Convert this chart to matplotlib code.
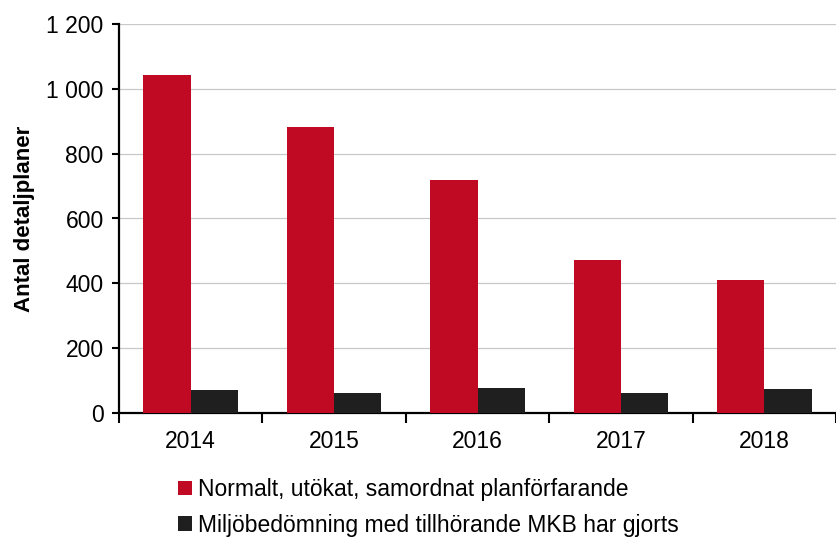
import matplotlib.pyplot as plt
import numpy as np

plt.rcParams['font.family'] = ['Liberation Sans', 'DejaVu Sans']

years = ['2014', '2015', '2016', '2017', '2018']
normalt = [1043, 882, 718, 473, 411]
miljo = [71, 63, 78, 63, 73]
labels = ['Normalt, utökat, samordnat planförfarande',
          'Miljöbedömning med tillhörande MKB har gjorts']
colors = ['#c00a23', '#1f1f1f']

W, H = 836, 539
fig = plt.figure(figsize=(W / 100, H / 100), dpi=100)
left, right, bottom, top = 119, 836, 413, 24
ax = fig.add_axes([left / W, 1 - bottom / H, (right - left) / W, (bottom - top) / H])

x = np.arange(len(years))
w = 0.33
b1 = ax.bar(x - w / 2, normalt, w, color=colors[0], zorder=3, label=labels[0])
b2 = ax.bar(x + w / 2, miljo, w, color=colors[1], zorder=3, label=labels[1])

ax.set_xlim(-0.5, -0.5 + (right - left) / 144)
ax.set_ylim(0, 1200)
ax.set_yticks(range(0, 1201, 200))
ax.set_yticklabels(['0', '200', '400', '600', '800', '1 000', '1 200'])
ax.yaxis.grid(True, color='#c8c8c8', linewidth=0.9, zorder=0)
ax.set_axisbelow(True)

# ticks between the groups, labels centred under them
ax.set_xticks(np.arange(-0.5, len(years), 1))
ax.set_xticklabels([])
ax.set_xticks(x, minor=True)
ax.set_xticklabels(years, minor=True)
ax.tick_params(axis='x', which='major', length=7, width=1.5, direction='out')
ax.tick_params(axis='x', which='minor', length=0, pad=12, labelsize=16.5)
ax.tick_params(axis='y', length=5, width=1.5, labelsize=16.5, pad=6)

for s in ['top', 'right']:
    ax.spines[s].set_visible(False)
for s in ['left', 'bottom']:
    ax.spines[s].set_linewidth(1.6)

ax.set_ylabel('Antal detaljplaner', fontsize=16, fontweight='bold', labelpad=8)

fig.legend(handles=[b1, b2], loc='upper left', bbox_to_anchor=(169 / W, 1 - 469 / H),
           frameon=False, fontsize=16.5, handlelength=0.6, handleheight=0.6,
           handletextpad=0.25, labelspacing=0.55, borderaxespad=0)

fig.savefig('out.png', dpi=100)
